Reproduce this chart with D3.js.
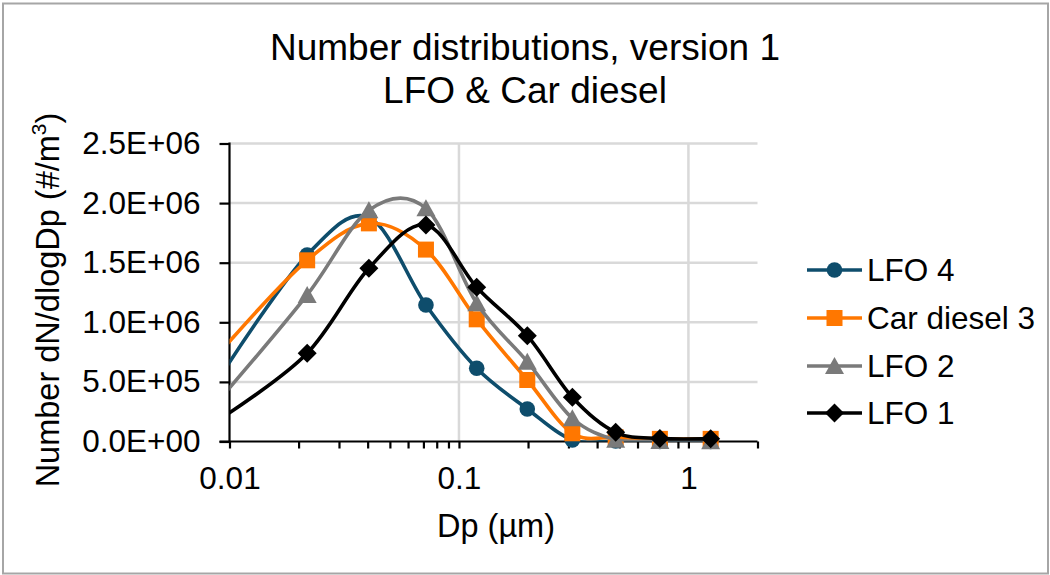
<!DOCTYPE html>
<html>
<head>
<meta charset="utf-8">
<script src="https://cdn.jsdelivr.net/npm/d3@7/dist/d3.min.js"></script>
<style>
  html, body { margin: 0; padding: 0; background: #fff; }
  svg { display: block; font-family: "Liberation Sans", Arial, sans-serif; }
</style>
</head>
<body>
<svg id="chart" width="1050" height="575"></svg>
<script>
// Particle diameters (µm) of the impactor stages
const dp = [0.0098, 0.0218, 0.0405, 0.0718, 0.1195, 0.1985, 0.312, 0.482, 0.751, 1.25];

// Number size distributions dN/dlogDp (#/m3)
const lfo4      = [0.64e6, 1.565e6, 1.88e6, 1.145e6, 0.614e6, 0.273e6, 0.013e6, 0.004e6, 0.001e6, 0.0005e6];
const carDiesel3 = [0.82e6, 1.52e6, 1.83e6, 1.61e6, 1.025e6, 0.516e6, 0.069e6, 0.035e6, 0.022e6, 0.022e6];
const lfo2      = [0.43e6, 1.23e6, 1.94e6, 1.956e6, 1.16e6, 0.67e6, 0.195e6, 0.015e6, 0.004e6, 0.003e6];
const lfo1      = [0.23e6, 0.74e6, 1.453e6, 1.816e6, 1.294e6, 0.888e6, 0.371e6, 0.077e6, 0.026e6, 0.024e6];

const seriesNames = ["LFO 4", "Car diesel 3", "LFO 2", "LFO 1"];
const seriesColors = ["#0E4D6C", "#FF7700", "#7A7A7A", "#000000"];
const seriesMarkers = ["circle", "square", "triangle", "diamond"];

// Axis ticks
const xMajorTicks = [0.01, 0.1, 1];
const xTickLabels = ["0.01", "0.1", "1"];
const yTicks = [0, 0.5e6, 1.0e6, 1.5e6, 2.0e6, 2.5e6];

const titleLines = ["Number distributions, version 1", "LFO & Car diesel"];

const series = [lfo4, carDiesel3, lfo2, lfo1].map((vals, i) => ({
  name: seriesNames[i], color: seriesColors[i], marker: seriesMarkers[i],
  points: dp.map((d, j) => ({ x: d, y: vals[j] }))
}));

const svg = d3.select("#chart");
const plot = { left: 229.5, right: 757.5, top: 143.5, bottom: 441.5 };

const x = d3.scaleLog().domain([0.01, 2]).range([plot.left, plot.right]);
const y = d3.scaleLinear().domain([0, 2.5e6]).range([plot.bottom, plot.top]);

// outer chart border
svg.append("rect")
  .attr("x", 3).attr("y", 3.5).attr("width", 1045).attr("height", 570)
  .attr("fill", "#fff").attr("stroke", "#A6A6A6").attr("stroke-width", 2);

// title
const title = svg.append("text")
  .attr("text-anchor", "middle").attr("font-size", 37).attr("fill", "#000");
titleLines.forEach((t, i) => {
  title.append("tspan").attr("x", 525).attr("y", 60 + i * 43).text(t);
});

// gridlines
const grid = svg.append("g").attr("stroke", "#D9D9D9").attr("stroke-width", 2.5);
yTicks.filter(v => v > 0).forEach(v => {
  grid.append("line").attr("x1", plot.left).attr("x2", plot.right)
    .attr("y1", y(v)).attr("y2", y(v));
});
xMajorTicks.filter(v => v > 0.01).forEach(v => {
  grid.append("line").attr("x1", x(v)).attr("x2", x(v))
    .attr("y1", plot.top).attr("y2", plot.bottom);
});

// y axis
const fmtSci = v => {
  const s = v.toExponential(1).toUpperCase();
  return s.replace(/E([+-])(\d)$/, "E$10$2");
};
const yAxis = d3.axisLeft(y).tickValues(yTicks).tickFormat(fmtSci).tickSize(10).tickPadding(19);
const gy = svg.append("g").attr("transform", `translate(${plot.left},0)`).call(yAxis);
gy.select(".domain").attr("stroke", "#000").attr("stroke-width", 2.2).attr("d", `M0,${plot.bottom}V${plot.top - 1}`);
gy.selectAll(".tick line").attr("stroke", "#000").attr("stroke-width", 2.2);
gy.selectAll(".tick text").attr("font-size", 31.5).attr("fill", "#000")
  .attr("font-family", "Liberation Sans, Arial, sans-serif");

// x axis: major and minor ticks within the decades
const xAllTicks = [];
[0.01, 0.1, 1].forEach(dec => {
  for (let k = 1; k <= 9; k++) {
    const v = +(dec * k).toPrecision(3);
    if (v >= 0.01 && v <= 2 + 1e-9) xAllTicks.push(v);
  }
});
const xAxis = d3.axisBottom(x).tickValues(xAllTicks)
  .tickFormat(v => { const i = xMajorTicks.indexOf(v); return i >= 0 ? xTickLabels[i] : ""; })
  .tickSize(7).tickPadding(18);
const gx = svg.append("g").attr("transform", `translate(0,${plot.bottom})`).call(xAxis);
gx.select(".domain").attr("stroke", "#000").attr("stroke-width", 2.2).attr("d", `M${plot.left - 10},0H${plot.right}`);
gx.selectAll(".tick line").attr("stroke", "#000").attr("stroke-width", 2.2);
gx.selectAll(".tick text").attr("font-size", 31.5).attr("fill", "#000")
  .attr("font-family", "Liberation Sans, Arial, sans-serif");

// axis titles
svg.append("text").attr("x", 496).attr("y", 537).attr("text-anchor", "middle")
  .attr("font-size", 32.5).attr("fill", "#000").text("Dp (µm)");

const yt = svg.append("text")
  .attr("transform", "translate(59,300) rotate(-90)")
  .attr("text-anchor", "middle").attr("font-size", 32.5).attr("fill", "#000");
yt.append("tspan").text("Number dN/dlogDp (#/m");
yt.append("tspan").attr("font-size", 21).attr("dy", -13).text("3");
yt.append("tspan").attr("dy", 13).text(")");

// clip for lines
svg.append("clipPath").attr("id", "plotClip").append("rect")
  .attr("x", plot.left).attr("y", plot.top - 20)
  .attr("width", plot.right - plot.left).attr("height", plot.bottom - plot.top + 20);

// marker shapes
function drawMarker(g, type, cx, cy, color) {
  if (type === "circle") {
    g.append("circle").attr("cx", cx).attr("cy", cy).attr("r", 7.8).attr("fill", color);
  } else if (type === "square") {
    g.append("rect").attr("x", cx - 8).attr("y", cy - 8).attr("width", 16).attr("height", 16).attr("fill", color);
  } else if (type === "triangle") {
    g.append("path").attr("d", `M${cx},${cy - 9}L${cx + 9.5},${cy + 8}L${cx - 9.5},${cy + 8}Z`).attr("fill", color);
  } else if (type === "diamond") {
    g.append("path").attr("d", `M${cx},${cy - 9.5}L${cx + 9.5},${cy}L${cx},${cy + 9.5}L${cx - 9.5},${cy}Z`).attr("fill", color);
  }
}

const line = d3.line().x(d => x(d.x)).y(d => y(d.y)).curve(d3.curveCardinal.tension(0));

series.forEach(s => {
  const g = svg.append("g");
  g.append("path").datum(s.points)
    .attr("clip-path", "url(#plotClip)")
    .attr("d", line).attr("fill", "none")
    .attr("stroke", s.color).attr("stroke-width", 3.6)
    .attr("stroke-linejoin", "round").attr("stroke-linecap", "round");
  s.points.filter(p => p.x >= 0.01).forEach(p => drawMarker(g, s.marker, x(p.x), y(p.y), s.color));
});

// legend
const legendRows = [270, 318, 366, 413];
series.forEach((s, i) => {
  const g = svg.append("g");
  const cy = legendRows[i];
  g.append("line").attr("x1", 807).attr("x2", 862).attr("y1", cy).attr("y2", cy)
    .attr("stroke", s.color).attr("stroke-width", 3.6);
  drawMarker(g, s.marker, 834.5, cy, s.color);
  g.append("text").attr("x", 867).attr("y", cy + 11).attr("font-size", 31.5).attr("fill", "#000").text(s.name);
});
</script>
</body>
</html>
